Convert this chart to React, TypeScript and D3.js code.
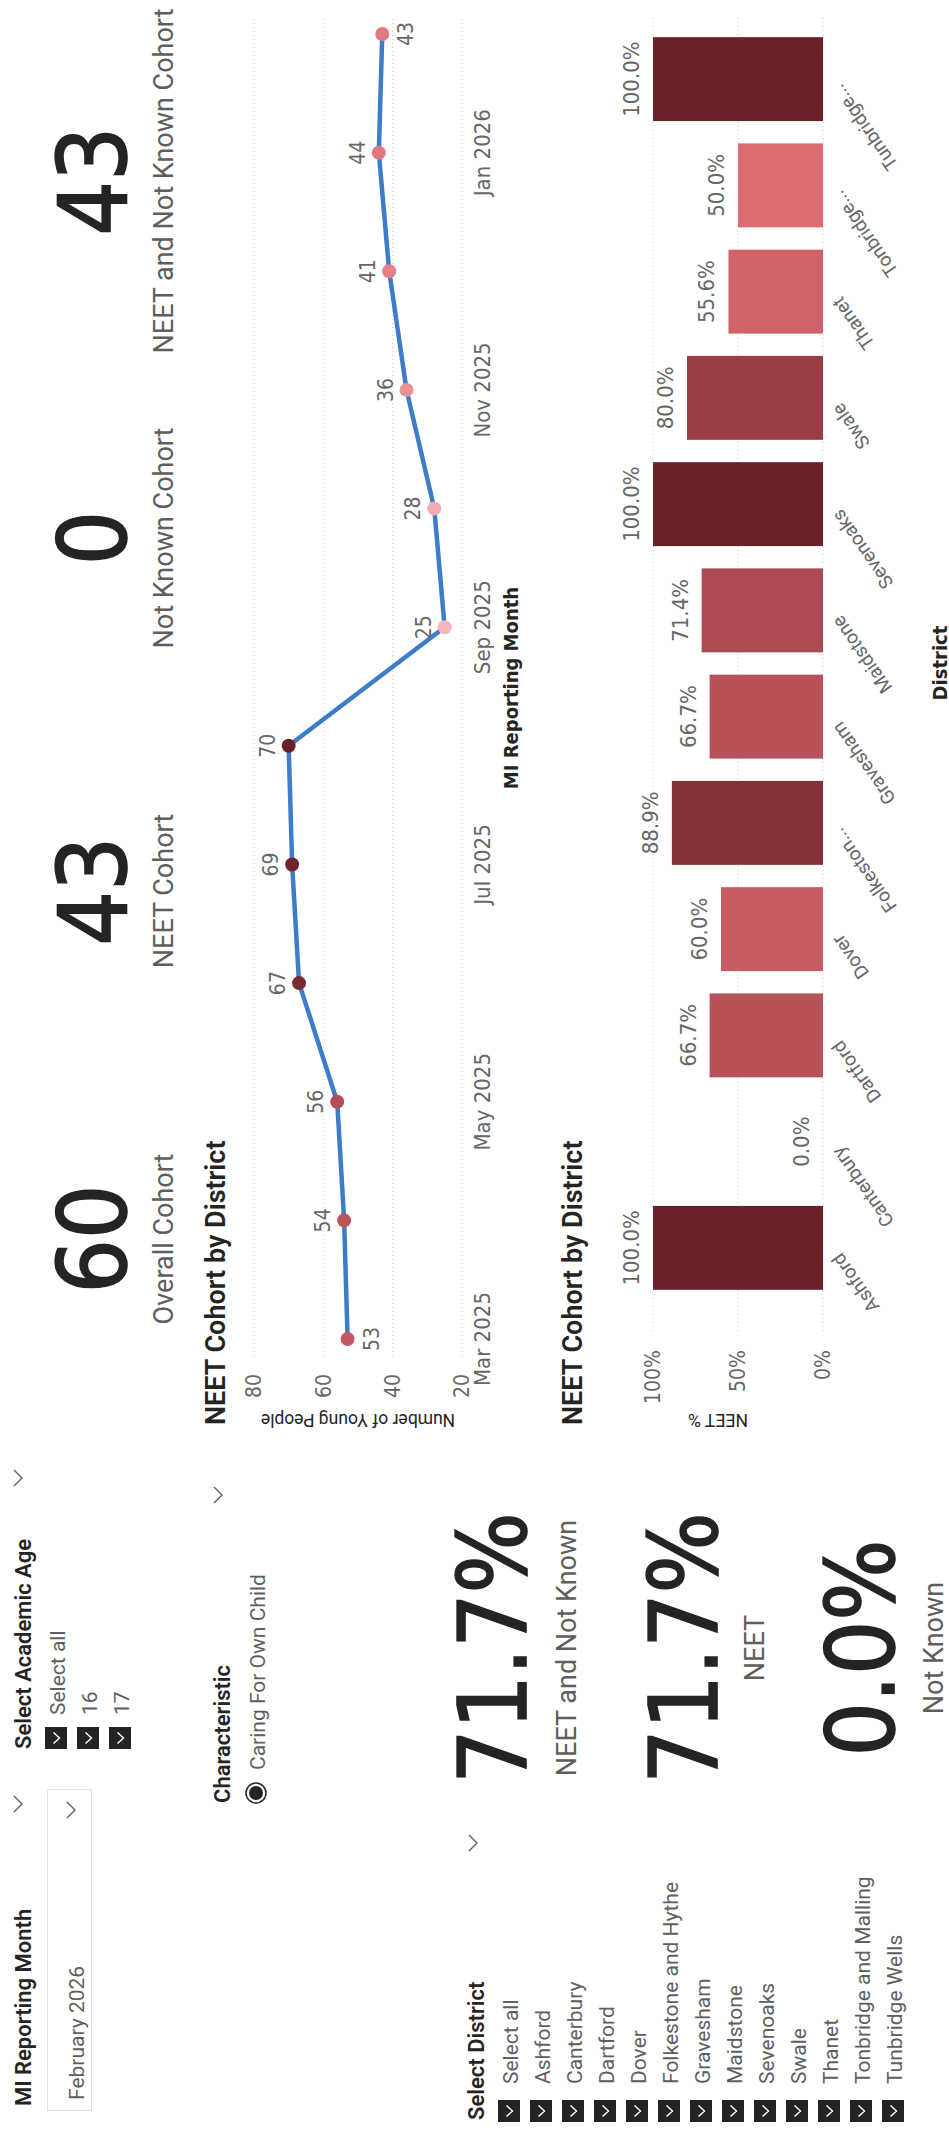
import React from "react";
import * as d3 from "d3";

// ---------- data ----------
const months = ["Mar 2025","Apr 2025","May 2025","Jun 2025","Jul 2025","Aug 2025","Sep 2025","Oct 2025","Nov 2025","Dec 2025","Jan 2026","Feb 2026"];
const cohortCounts = [53, 54, 56, 67, 69, 70, 25, 28, 36, 41, 44, 43];
const monthTickLabels = ["Mar 2025","May 2025","Jul 2025","Sep 2025","Nov 2025","Jan 2026"];
const countTicks = [20, 40, 60, 80];

const districts = ["Ashford","Canterbury","Dartford","Dover","Folkeston...","Gravesham","Maidstone","Sevenoaks","Swale","Thanet","Tonbridge...","Tunbridge..."];
const neetPct = [100, 0, 66.7, 60, 88.9, 66.7, 71.4, 100, 80, 55.6, 50, 100];
const pctTicks = [0, 50, 100];

const districtOptions = ["Select all","Ashford","Canterbury","Dartford","Dover","Folkestone and Hythe","Gravesham","Maidstone","Sevenoaks","Swale","Thanet","Tonbridge and Malling","Tunbridge Wells"];
const ageOptions = ["Select all","16","17"];
const characteristicOptions = ["Caring For Own Child"];
const selectedMonth = "February 2026";

const cohortKpiValues = ["60","43","0","43"];
const cohortKpiLabels = ["Overall Cohort","NEET Cohort","Not Known Cohort","NEET and Not Known Cohort"];
const rateKpiValues = ["71.7%","71.7%","0.0%"];
const rateKpiLabels = ["NEET and Not Known","NEET","Not Known"];

// ---------- styling ----------
const NARROW = "'Liberation Sans Narrow','DejaVu Sans Condensed',sans-serif";
const UI = "Roboto,'Noto Sans',sans-serif";
const DARK = "#252423";
const GREY = "#605e5c";
const LABEL = "#666666";
const GRID = "#c8c8c8";
const LINE = "#3d7cc8";

const pointColor = d3.scaleLinear<string>().domain([25, 47.5, 70]).range(["#f4b6ba", "#df6a71", "#6b2128"]);
const barColor = d3.scaleLinear<string>().domain([0, 50, 100]).range(["#f4b6ba", "#df6a71", "#6b2128"]);

function Chevron({ cx, cy }: { cx: number; cy: number }) {
  return <polyline points={`${cx - 8},${cy - 4} ${cx},${cy + 4} ${cx + 8},${cy - 4}`} fill="none" stroke={GREY} strokeWidth={1.4} />;
}

function CheckBox({ x, y }: { x: number; y: number }) {
  return (
    <g>
      <rect x={x} y={y} width={22} height={22} fill={DARK} />
      <polyline points={`${x + 5.5},${y + 8.5} ${x + 11},${y + 14.5} ${x + 16.5},${y + 8.5}`} fill="none" stroke="#fff" strokeWidth={1.4} />
    </g>
  );
}

export default function App() {
  // line chart scales
  const x = d3.scalePoint<string>().domain(months).range([790, 2095]);
  const y = d3.scaleLinear().domain([20, 80]).range([462, 254]);
  const line = d3.line<number>().x((_, i) => x(months[i]) as number).y((d) => y(d));

  // bar chart scales
  const xb = d3.scaleBand<string>().domain(districts).range([828, 2103]).paddingInner(0.21).paddingOuter(0.105);
  const yb = d3.scaleLinear().domain([0, 100]).range([823, 653]);

  const cardCentersTop = [890, 1238, 1591, 1948];
  const rateBaselines = [526, 717, 894];
  const rateLabelBaselines = [576, 764, 943];

  return (
    <svg width={949} height={2129} style={{ position: "absolute", left: 0, top: 0, background: "#fff" }}>
      <rect width={949} height={2129} fill="#fff" />
      <g transform="translate(0,2129) rotate(-90)">
        {/* ---------- slicers ---------- */}
        <text x={23} y={31} fontFamily={UI} fontWeight={600} fontSize={22} fill={DARK}>MI Reporting Month</text>
        <Chevron cx={325} cy={18} />
        <rect x={18.5} y={47.5} width={321} height={44} fill="#fff" stroke="#e1e1e1" />
        <text x={29} y={84} fontFamily={UI} fontSize={21} fill={GREY}>{selectedMonth}</text>
        <Chevron cx={319} cy={71} />

        <text x={380} y={31} fontFamily={UI} fontWeight={600} fontSize={22} fill={DARK}>Select Academic Age</text>
        <Chevron cx={651} cy={18} />
        {ageOptions.map((o, i) => (
          <g key={o}>
            <CheckBox x={380} y={45 + i * 32} />
            <text x={414} y={65 + i * 32} fontFamily={UI} fontSize={21} fill={GREY}>{o}</text>
          </g>
        ))}

        <text x={326} y={230} fontFamily={UI} fontWeight={600} fontSize={22} fill={DARK}>Characteristic</text>
        <Chevron cx={634} cy={218} />
        {characteristicOptions.map((o, i) => (
          <g key={o}>
            <circle cx={336} cy={256 + i * 32} r={10} fill="#fff" stroke={DARK} strokeWidth={1.5} />
            <circle cx={336} cy={256 + i * 32} r={7} fill={DARK} />
            <text x={359} y={265 + i * 32} fontFamily={UI} fontSize={21} fill={GREY}>{o}</text>
          </g>
        ))}

        <text x={9} y={484} fontFamily={UI} fontWeight={600} fontSize={22} fill={DARK}>Select District</text>
        <Chevron cx={286} cy={473} />
        {districtOptions.map((o, i) => (
          <g key={o}>
            <CheckBox x={7} y={498 + i * 32} />
            <text x={45} y={518 + i * 32} fontFamily={UI} fontSize={21} fill={GREY}>{o}</text>
          </g>
        ))}

        {/* ---------- rate KPI cards ---------- */}
        {rateKpiValues.map((v, i) => (
          <g key={"r" + i}>
            <text x={481} y={rateBaselines[i]} textAnchor="middle" fontFamily={NARROW} fontSize={95} fill={DARK} stroke={DARK} strokeWidth={1.6}>{v}</text>
            <text x={481} y={rateLabelBaselines[i]} textAnchor="middle" fontFamily={UI} fontWeight={400} fontSize={27} fill={GREY}>{rateKpiLabels[i]}</text>
          </g>
        ))}

        {/* ---------- cohort KPI cards ---------- */}
        {cohortKpiValues.map((v, i) => (
          <g key={"c" + i}>
            <text x={cardCentersTop[i]} y={126} textAnchor="middle" fontFamily={NARROW} fontSize={95} fill={DARK} stroke={DARK} strokeWidth={1.6}>{v}</text>
            <text x={cardCentersTop[i]} y={173} textAnchor="middle" fontFamily={UI} fontWeight={400} fontSize={27} fill={GREY}>{cohortKpiLabels[i]}</text>
          </g>
        ))}

        {/* ---------- line chart ---------- */}
        <text x={704} y={225} fontFamily={UI} fontWeight={600} fontSize={27} fill={DARK}>NEET Cohort by District</text>
        {countTicks.map((t) => (
          <g key={"yt" + t}>
            <line x1={773} x2={2111} y1={y(t)} y2={y(t)} stroke={GRID} strokeWidth={1} strokeDasharray="1,3" />
            <text x={755} y={y(t)} dy="0.35em" textAnchor="end" fontFamily={NARROW} fontSize={21} fill={LABEL}>{t}</text>
          </g>
        ))}
        <text transform={`translate(715,358) rotate(-90)`} textAnchor="middle" fontFamily={UI} fontSize={17.5} fill={DARK}>Number of Young People</text>
        {monthTickLabels.map((m) => (
          <text key={m} x={x(m)} y={490} textAnchor="middle" fontFamily={NARROW} fontSize={22} fill={LABEL}>{m}</text>
        ))}
        <text x={1441} y={518} textAnchor="middle" fontFamily={NARROW} fontWeight={700} fontSize={20} fill={DARK}>MI Reporting Month</text>
        <path d={line(cohortCounts) as string} fill="none" stroke={LINE} strokeWidth={4.5} strokeLinejoin="round" strokeLinecap="round" />
        {cohortCounts.map((c, i) => {
          const below = i === 0 || i === cohortCounts.length - 1;
          const px = x(months[i]) as number;
          const py = y(c);
          return (
            <g key={"p" + i}>
              <circle cx={px} cy={py} r={7} fill={pointColor(c)} />
              <text x={px} y={below ? py + 31 : py - 14} textAnchor="middle" fontFamily={NARROW} fontSize={21} fill={LABEL}>{c}</text>
            </g>
          );
        })}

        {/* ---------- bar chart ---------- */}
        <text x={704} y={582} fontFamily={UI} fontWeight={600} fontSize={27} fill={DARK}>NEET Cohort by District</text>
        {pctTicks.map((t) => (
          <g key={"bt" + t}>
            <line x1={798} x2={2111} y1={yb(t)} y2={yb(t)} stroke={GRID} strokeWidth={1} strokeDasharray="1,3" />
            <text x={779} y={yb(t)} dy="0.35em" textAnchor="end" fontFamily={NARROW} fontSize={21} fill={LABEL}>{t}%</text>
          </g>
        ))}
        <text transform={`translate(715,718) rotate(-90)`} textAnchor="middle" fontFamily={UI} fontSize={17.5} fill={DARK}>NEET %</text>
        {districts.map((d, i) => {
          const v = neetPct[i];
          const bx = xb(d) as number;
          const cx = bx + xb.bandwidth() / 2;
          return (
            <g key={"b" + d}>
              {v > 0 && <rect x={bx} y={yb(v)} width={xb.bandwidth()} height={yb(0) - yb(v)} fill={barColor(v)} />}
              <text x={cx} y={yb(v) - 14} textAnchor="middle" fontFamily={NARROW} fontSize={22} fill={LABEL}>{v.toFixed(1)}%</text>
              <text transform={`translate(${cx - 12},830) rotate(-35)`} dy="0.75em" textAnchor="end" fontFamily={UI} fontSize={19} fill={LABEL}>{d}</text>
            </g>
          );
        })}
        <text x={1466} y={947} textAnchor="middle" fontFamily={NARROW} fontWeight={700} fontSize={20} fill={DARK}>District</text>
      </g>
    </svg>
  );
}
